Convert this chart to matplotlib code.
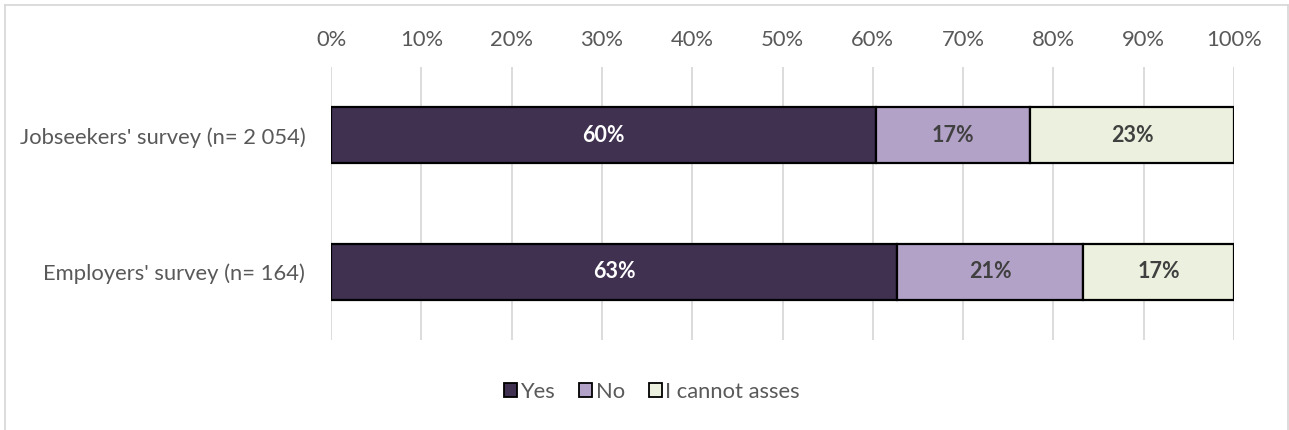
import matplotlib
matplotlib.use("Agg")
import matplotlib.pyplot as plt
from matplotlib.lines import Line2D
from matplotlib.patches import Patch

plt.rcParams['font.family'] = ['Lato', 'DejaVu Sans']

categories = ["Jobseekers' survey (n= 2 054)", "Employers' survey (n= 164)"]
series_names = ["Yes", "No", "I cannot asses"]
yes_vals = [60.4, 62.7]
no_vals = [17.0, 20.6]
cannot_vals = [22.6, 16.7]
tick_vals = [0, 10, 20, 30, 40, 50, 60, 70, 80, 90, 100]

colors = ["#403151", "#B3A2C7", "#EBF1DE"]
label_colors = ["white", "#404040", "#404040"]
grey_text = "#595959"

W, H = 1289, 430
fig = plt.figure(figsize=(W / 100, H / 100), dpi=100)
ax = fig.add_axes([331 / W, 1 - 340 / H, (1234 - 331) / W, (340 - 67) / H])

ypos = list(range(len(categories)))
left = [0.0] * len(categories)
for vals, name, col, lcol in zip([yes_vals, no_vals, cannot_vals], series_names, colors, label_colors):
    bars = ax.barh(ypos, vals, left=left, height=0.41, color=col,
                   edgecolor="black", linewidth=1.6, label=name, zorder=3)
    for b, v in zip(bars, vals):
        ax.text(b.get_x() + b.get_width() / 2, b.get_y() + b.get_height() / 2,
                f"{v:.0f}%", ha="center", va="center", color=lcol,
                fontsize=15.5, fontweight="bold", zorder=4)
    left = [l + v for l, v in zip(left, vals)]

ax.set_xlim(0, 100)
ax.set_ylim(1.5, -0.5)
ax.set_xticks(tick_vals)
ax.set_xticklabels([f"{t}%" for t in tick_vals], color=grey_text, fontsize=15.8)
ax.xaxis.tick_top()
ax.tick_params(axis="x", length=0, pad=12)
ax.set_yticks(ypos)
ax.set_yticklabels(categories, color=grey_text, fontsize=15.8)
ax.tick_params(axis="y", length=0, pad=18.5)
ax.grid(axis="x", color="#D9D9D9", linewidth=1.3, zorder=0)
for s in ax.spines.values():
    s.set_visible(False)

handles = [Patch(facecolor=c, edgecolor="black", linewidth=1.3) for c in colors]
fig.legend(handles, series_names, loc="center", bbox_to_anchor=(652 / W, 1 - 392 / H),
           ncol=3, frameon=False, fontsize=15.8, handlelength=0.6, handleheight=0.6,
           handletextpad=0.15, columnspacing=1.1, labelcolor=grey_text)

# outer chart border
fc = "#D9D9D9"
fig.add_artist(Line2D([5 / W, 1288 / W], [1 - 5 / H, 1 - 5 / H], color=fc, lw=1.3, transform=fig.transFigure))
fig.add_artist(Line2D([5 / W, 5 / W], [0, 1 - 5 / H], color=fc, lw=1.3, transform=fig.transFigure))
fig.add_artist(Line2D([1288 / W, 1288 / W], [0, 1 - 5 / H], color=fc, lw=1.3, transform=fig.transFigure))

fig.savefig("out.png", dpi=100, facecolor="white")
